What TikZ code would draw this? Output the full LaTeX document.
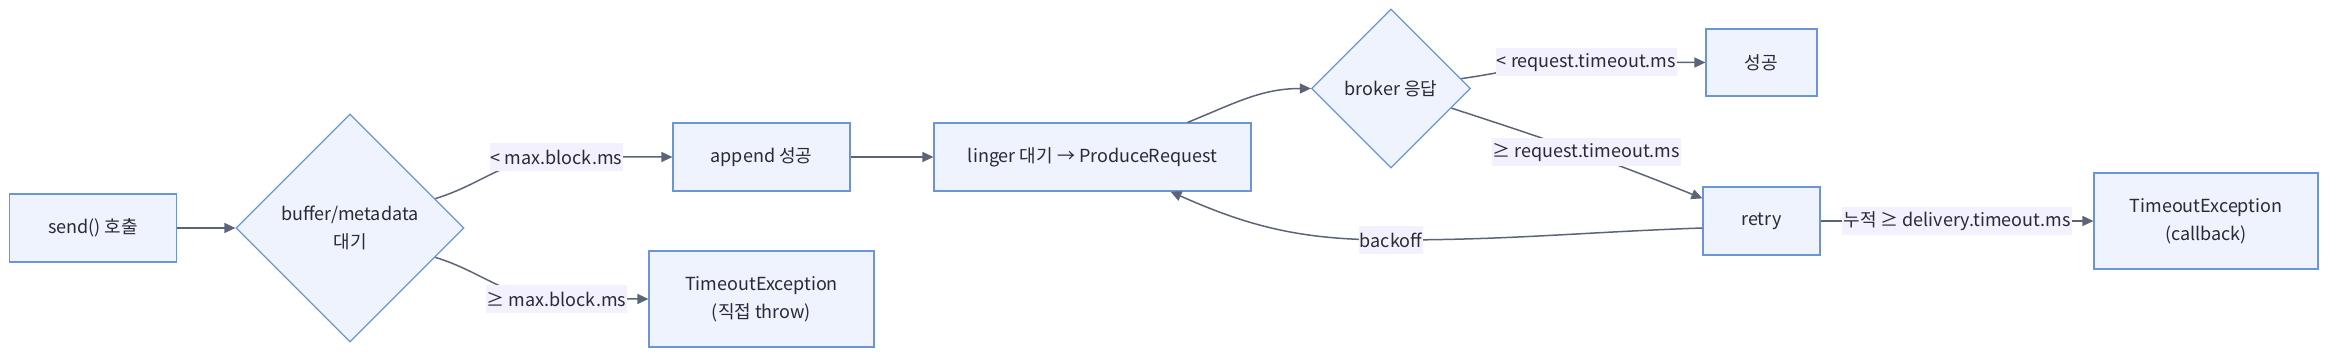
\documentclass[tikz,border=0pt]{standalone}
\usepackage{fontspec}
\setmainfont{Noto Sans CJK KR}
\usetikzlibrary{shapes.geometric,arrows.meta}
\definecolor{boxfill}{HTML}{EEF3FE}
\definecolor{boxline}{HTML}{6B95D6}
\definecolor{flowcol}{HTML}{5C6577}
\definecolor{lblfill}{HTML}{F3F1FE}
\definecolor{txtcol}{HTML}{2A2A33}

\begin{document}
\begin{tikzpicture}[x=1pt, y=1pt,
    every node/.style={font=\fontsize{18}{28}\selectfont, text=txtcol},
    box/.style={draw=boxline, fill=boxfill, line width=1.2pt, align=center, inner sep=0pt},
    decision/.style={diamond, aspect=1, draw=boxline, fill=boxfill, line width=1.2pt, align=center, inner sep=0pt},
    lbl/.style={fill=lblfill, inner xsep=1pt, inner ysep=0pt, minimum height=28pt},
    flow/.style={draw=flowcol, line width=1.5pt, -{Triangle[length=11pt,width=10pt]}}]
        \useasboundingbox (0,0) rectangle (2352,363);
        % producer side
        \node[box, minimum width=167pt, minimum height=68pt] (send) at (93,135) {send() 호출};
        \node[decision, minimum width=228pt, minimum height=228pt] (buf) at (350,135) {buffer/metadata\\대기};
        \node[box, minimum width=177pt, minimum height=68pt] (append) at (761.5,206) {append 성공};
        \node[box, minimum width=225pt, minimum height=96pt] (thrw) at (761.5,64) {TimeoutException\\(직접 throw)};
        \node[box, minimum width=317pt, minimum height=68pt] (linger) at (1092.5,206) {linger 대기 → ProduceRequest};
        % broker side
        \node[decision, minimum width=159pt, minimum height=159pt] (broker) at (1391,274.5) {broker 응답};
        \node[box, minimum width=111pt, minimum height=67pt] (ok) at (1761.5,300.5) {성공};
        \node[box, minimum width=117pt, minimum height=68pt] (retry) at (1761.5,142) {retry};
        \node[box, minimum width=224pt, minimum height=96pt] (cb) at (2206,142) {TimeoutException\\(callback)};
        % label spots
        \coordinate (lmaxlt) at (556.5,206);
        \coordinate (lmaxge) at (556.5,64);
        \coordinate (lreqlt) at (1586.5,300.5);
        \coordinate (lreqge) at (1586.5,210.5);
        \coordinate (lback) at (1391,123);
        \coordinate (ldeliv) at (1957,142);
        % arrows
        \draw[flow] (send) -- (buf);
        \draw[flow] (buf.19) to[out=17,in=180] (lmaxlt) -- (append);
        \draw[flow] (buf.-19) to[out=-17,in=180] (lmaxge) -- (thrw);
        \draw[flow] (append) -- (linger);
        \draw[flow] ([xshift=-64pt]linger.north east) to[out=22,in=180] (broker.west);
        \draw[flow] (broker.8) to[out=8,in=180] (lreqlt) -- (ok);
        \draw[flow] (broker.-18) to[out=-18,in=158] ([yshift=-12pt]retry.north west);
        \draw[flow] ([yshift=-7pt]retry.west) to[out=182,in=0] (lback) to[out=180,in=-24] ([xshift=78pt]linger.south);
        \draw[flow] (retry) -- (cb);
        % labels
        \node[lbl] (tmaxlt) at (lmaxlt) {< max.block.ms};
        \node[lbl] (tmaxge) at (lmaxge) {≥ max.block.ms};
        \node[lbl] (treqlt) at (lreqlt) {< request.timeout.ms};
        \node[lbl] (treqge) at (lreqge) {≥ request.timeout.ms};
        \node[lbl] (tback) at (lback) {backoff};
        \node[lbl] (tdeliv) at (ldeliv) {누적 ≥ delivery.timeout.ms};
\end{tikzpicture}
\end{document}
